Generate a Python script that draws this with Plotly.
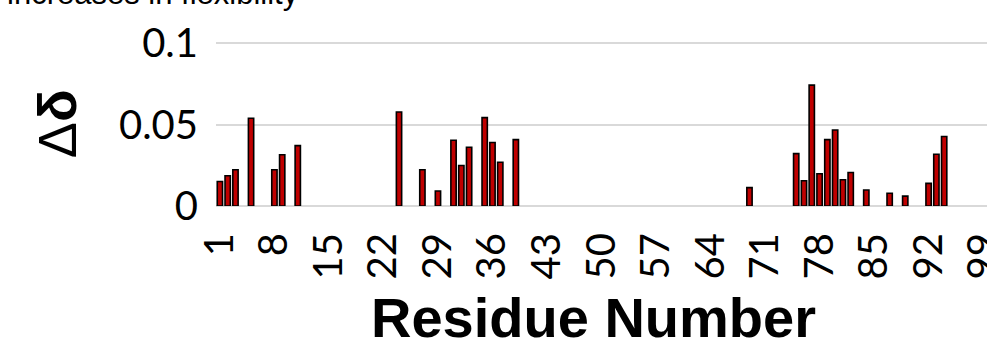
import plotly.graph_objects as go

# Chemical shift perturbation per residue
residues = [1, 2, 3, 5, 8, 9, 11, 24, 27, 29, 31, 32, 33, 35, 36, 37, 39,
            69, 75, 76, 77, 78, 79, 80, 81, 82, 84, 87, 89, 92, 93, 94]
delta = [0.0151, 0.0186, 0.0223, 0.0539, 0.0223, 0.0315, 0.0371, 0.0578,
         0.0223, 0.0092, 0.0404, 0.0249, 0.0361, 0.0543, 0.0390, 0.0269, 0.0408,
         0.0113, 0.0322, 0.0155, 0.0743, 0.0198, 0.0408, 0.0467, 0.0161, 0.0206,
         0.0098, 0.0078, 0.0061, 0.0139, 0.0318, 0.0427]

tick_residues = list(range(1, 100, 7))
y_ticks = [0, 0.05, 0.1]
y_tick_text = ["0", "0.05", "0.1"]

tick_font = dict(family="Lato, Open Sans, sans-serif", size=40, color="#000000")

fig = go.Figure(
    go.Bar(
        x=residues,
        y=delta,
        width=0.68,
        marker=dict(color="#C00000", line=dict(color="#000000", width=1.6)),
    )
)

fig.update_layout(
    width=987,
    height=343,
    margin=dict(l=216, r=0, t=42, b=137, autoexpand=False),
    paper_bgcolor="#FFFFFF",
    plot_bgcolor="#FFFFFF",
    showlegend=False,
    xaxis=dict(
        range=[0.5, 99.5],
        tickmode="array",
        tickvals=tick_residues,
        ticktext=[str(v) for v in tick_residues],
        tickangle=-90,
        tickfont=tick_font,
        showgrid=False,
        zeroline=False,
        showline=False,
        ticks="",
        ticklabelstandoff=18,
        ticklabeloverflow="allow",
        automargin=False,
    ),
    yaxis=dict(
        range=[0, 0.1008],
        tickmode="array",
        tickvals=y_ticks,
        ticktext=y_tick_text,
        tickfont=tick_font,
        showgrid=True,
        gridcolor="#D9D9D9",
        gridwidth=2,
        zeroline=True,
        zerolinecolor="#D9D9D9",
        zerolinewidth=2,
        showline=False,
        ticks="",
        ticklabelstandoff=17,
        automargin=False,
    ),
    annotations=[
        dict(
            text="<b>Residue Number</b>",
            xref="paper", yref="paper",
            x=0.49, y=0, yshift=-111,
            xanchor="center", yanchor="middle",
            showarrow=False,
            font=dict(family="Liberation Sans, Arial, sans-serif", size=56, color="#000000"),
        ),
        dict(
            text="Δ<b>δ</b>",
            xref="paper", yref="paper",
            x=-0.206, y=0.5,
            xanchor="center", yanchor="middle",
            textangle=-90,
            showarrow=False,
            font=dict(family="Liberation Sans, Arial, sans-serif", size=54, color="#000000"),
        ),
        dict(
            text="increases in flexibility",
            xref="paper", yref="paper",
            x=-0.274, y=1, yshift=29,
            xanchor="left", yanchor="bottom",
            showarrow=False,
            font=dict(family="Liberation Sans, Arial, sans-serif", size=31, color="#000000"),
        ),
    ],
)

fig.write_html("out.html")
